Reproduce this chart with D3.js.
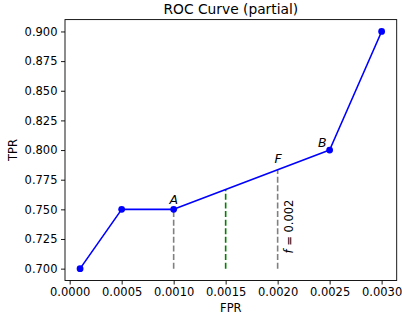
<!DOCTYPE html>
<html>
<head>
<meta charset="utf-8">
<script src="https://cdn.jsdelivr.net/npm/d3@7"></script>
<style>
  html, body { margin: 0; padding: 0; background: #fff; }
  svg { display: block; font-family: "DejaVu Sans", sans-serif; }
</style>
</head>
<body>
<svg id="chart" width="402" height="321"></svg>
<script>
// ROC operating points (false positive rate, true positive rate)
const fpr = [0.0001, 0.0005, 0.0010, 0.0025, 0.0030];
const tpr = [0.700, 0.750, 0.750, 0.800, 0.900];

// Tick values
const xTicks = [0.0000, 0.0005, 0.0010, 0.0015, 0.0020, 0.0025, 0.0030];
const yTicks = [0.700, 0.725, 0.750, 0.775, 0.800, 0.825, 0.850, 0.875, 0.900];

// Named points on the curve
const pointNames = ["A", "B"];
const pointFpr = [0.0010, 0.0025];

// Fixed FPR of interest and the interpolated midpoint between A and F
const fixedFpr = 0.0020;
const midFpr = 0.0015;

const W = 402, H = 321;
const margin = { left: 65, right: 5.3, top: 19.6, bottom: 40.5 };

const svg = d3.select("#chart");

// Domains padded by 5% like a default autoscaled plot
const xPad = (d3.max(fpr) - d3.min(fpr)) * 0.05;
const yPad = (d3.max(tpr) - d3.min(tpr)) * 0.05;
const x = d3.scaleLinear()
  .domain([d3.min(fpr) - xPad, d3.max(fpr) + xPad])
  .range([margin.left, W - margin.right]);
const y = d3.scaleLinear()
  .domain([d3.min(tpr) - yPad, d3.max(tpr) + yPad])
  .range([H - margin.bottom, margin.top]);

// Piecewise-linear TPR at any FPR along the curve
const tprAt = f => {
  for (let i = 0; i < fpr.length - 1; i++) {
    if (f >= fpr[i] && f <= fpr[i + 1]) {
      const t = (f - fpr[i]) / (fpr[i + 1] - fpr[i]);
      return tpr[i] + t * (tpr[i + 1] - tpr[i]);
    }
  }
  return NaN;
};

const baseTpr = d3.min(tpr);

// Dashed drop lines
const drops = [
  { f: pointFpr[0], color: "#808080" },
  { f: midFpr, color: "#008000" },
  { f: fixedFpr, color: "#808080" }
];
svg.append("g").selectAll("line").data(drops).join("line")
  .attr("x1", d => x(d.f)).attr("x2", d => x(d.f))
  .attr("y1", y(baseTpr)).attr("y2", d => y(tprAt(d.f)))
  .attr("stroke", d => d.color)
  .attr("stroke-width", 1.6)
  .attr("stroke-dasharray", "6,2.6");

// ROC line
const pts = fpr.map((f, i) => [f, tpr[i]]);
svg.append("path")
  .datum(pts)
  .attr("fill", "none")
  .attr("stroke", "#0000ff")
  .attr("stroke-width", 1.6)
  .attr("stroke-linejoin", "round")
  .attr("d", d3.line().x(d => x(d[0])).y(d => y(d[1])));

svg.append("g").selectAll("circle").data(pts).join("circle")
  .attr("cx", d => x(d[0])).attr("cy", d => y(d[1]))
  .attr("r", 3.4)
  .attr("fill", "#0000ff");

// Point labels
const labelStyle = sel => sel
  .attr("font-size", 12.5)
  .attr("font-style", "italic")
  .attr("fill", "#000");

svg.append("text").call(labelStyle)
  .attr("x", x(pointFpr[0])).attr("y", y(tprAt(pointFpr[0])) - 5)
  .attr("text-anchor", "middle")
  .text(pointNames[0]);

svg.append("text").call(labelStyle)
  .attr("x", x(pointFpr[1]) - 3).attr("y", y(tprAt(pointFpr[1])) - 3.5)
  .attr("text-anchor", "end")
  .text(pointNames[1]);

svg.append("text").call(labelStyle)
  .attr("x", x(fixedFpr) + 0.5).attr("y", y(tprAt(fixedFpr)) - 6.5)
  .attr("text-anchor", "middle")
  .text("F");

// Rotated annotation for the fixed FPR
const ann = svg.append("text")
  .attr("transform", `translate(${x(fixedFpr) + 15},${y(0.7355)}) rotate(-90)`)
  .attr("text-anchor", "middle")
  .attr("font-size", 11.5)
  .attr("fill", "#000");
ann.append("tspan").attr("font-style", "italic").text("f");
ann.append("tspan").text(" = " + fixedFpr.toFixed(3));

// Axes
const xAxis = d3.axisBottom(x).tickValues(xTicks).tickFormat(d3.format(".4f")).tickSize(4).tickPadding(3);
const yAxis = d3.axisLeft(y).tickValues(yTicks).tickFormat(d3.format(".3f")).tickSize(4).tickPadding(3.5);

const gx = svg.append("g").attr("transform", `translate(0,${H - margin.bottom})`).call(xAxis);
const gy = svg.append("g").attr("transform", `translate(${margin.left},0)`).call(yAxis);
[gx, gy].forEach(g => {
  g.select(".domain").remove();
  g.selectAll(".tick line").attr("stroke", "#000").attr("stroke-width", 0.9);
  g.selectAll(".tick text").attr("font-size", 11.5).attr("fill", "#000")
    .attr("font-family", "DejaVu Sans, sans-serif");
});

// Frame
svg.append("rect")
  .attr("x", margin.left).attr("y", margin.top)
  .attr("width", W - margin.left - margin.right)
  .attr("height", H - margin.top - margin.bottom)
  .attr("fill", "none").attr("stroke", "#000").attr("stroke-width", 0.9);

// Titles
svg.append("text")
  .attr("x", (margin.left + W - margin.right) / 2).attr("y", 13.5)
  .attr("text-anchor", "middle").attr("font-size", 13.8).attr("fill", "#000")
  .text("ROC Curve (partial)");

svg.append("text")
  .attr("x", (margin.left + W - margin.right) / 2).attr("y", 311.7)
  .attr("text-anchor", "middle").attr("font-size", 11.5).attr("fill", "#000")
  .text("FPR");

svg.append("text")
  .attr("transform", `translate(16.5,${(margin.top + H - margin.bottom) / 2}) rotate(-90)`)
  .attr("text-anchor", "middle").attr("font-size", 11.5).attr("fill", "#000")
  .text("TPR");
</script>
</body>
</html>
